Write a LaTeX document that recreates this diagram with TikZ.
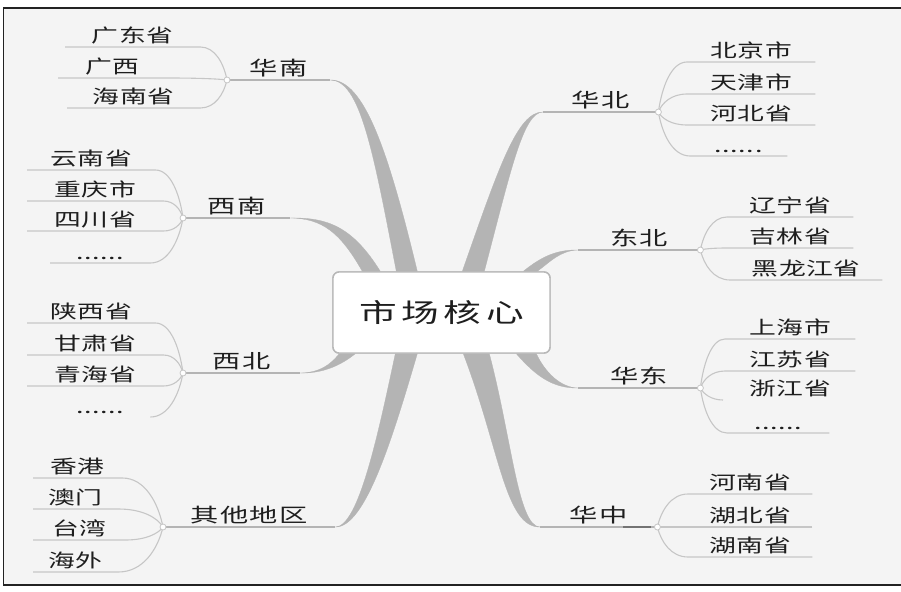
\documentclass[tikz,border=0pt]{standalone}
\usepackage{fontspec}
\setmainfont{Noto Sans CJK SC}
\newfontfamily\kidfont[FakeStretch=1.45,LetterSpace=3]{Noto Sans CJK SC}
\newfontfamily\brfont[FakeStretch=1.45,LetterSpace=6]{Noto Sans CJK SC}
\newfontfamily\corefont[FakeStretch=1.45,LetterSpace=18]{Noto Sans CJK SC}
\usetikzlibrary{calc}
\definecolor{bg}{HTML}{F4F4F4}
\definecolor{ink}{HTML}{1E1E1E}
\definecolor{limb}{HTML}{B4B4B4}
\definecolor{twig}{HTML}{C6C6C6}
\definecolor{framec}{HTML}{222222}
\definecolor{boxc}{HTML}{B8B8B8}
\tikzset{
  kid/.style={anchor=south west, inner xsep=0pt, inner ysep=3pt,
    font=\kidfont\fontsize{18.5}{20}\selectfont, text=ink},
  brlabel/.style={anchor=south west, inner xsep=0pt, inner ysep=3pt,
    font=\brfont\fontsize{19.5}{22}\selectfont, text=ink},
  twigline/.style={draw=twig, line width=1.1pt},
  limbline/.style={draw=limb, line width=1.2pt},
  limbfill/.style={fill=limb, draw=limb, line width=0.3pt},
  joint/.style={circle, draw=twig, fill=white, line width=0.8pt, inner sep=0pt, minimum size=6pt},
  corebox/.style={draw=boxc, fill=white, line width=1.4pt, rounded corners=6pt,
    minimum width=217pt, minimum height=81pt, inner sep=0pt,
    font=\corefont\fontsize{26}{30}\selectfont, text=ink},
}
% child node: name, text, x start, x end, y of underline
\newcommand\kidnode[5]{%
  \pgfmathsetmacro\kidw{#4-#3}%
  \node[kid, minimum width=\kidw pt] (#1) at (#3,#5) {#2};}
\newcommand\brnode[5]{%
  \pgfmathsetmacro\kidw{#4-#3}%
  \node[brlabel, minimum width=\kidw pt] (#1) at (#3,#5) {#2};}
% left side twig: child #1 to branch label #2 (junction at label's south west)
\newcommand\twigL[2]{%
  \draw[twigline] let \p1=(#1.south east), \p2=(#2.south west) in
    (#1.south west) -- (\p1) .. controls ({0.45*\x1+0.55*\x2},\y1) and ({0.12*\x1+0.88*\x2},{0.5*\y1+0.5*\y2}) .. (\p2);}
\newcommand\twigLs[2]{%
  \draw[twigline] let \p1=(#1.south east), \p2=(#2.south west) in
    (\p1) .. controls ({0.45*\x1+0.55*\x2},\y1) and ({0.12*\x1+0.88*\x2},{0.5*\y1+0.5*\y2}) .. (\p2);}
% right side twig: child #1 to branch label #2 (junction at label's south east)
\newcommand\twigR[2]{%
  \draw[twigline] let \p1=(#1.south west), \p2=(#2.south east) in
    (#1.south east) -- (\p1) .. controls ({0.45*\x1+0.55*\x2},\y1) and ({0.12*\x1+0.88*\x2},{0.5*\y1+0.5*\y2}) .. (\p2);}
\newcommand\twigRs[3]{%
  \draw[twigline] let \p1=(#1.south west), \p2=(#2.south east) in
    ($(\p1)+(#3,0)$) .. controls ({0.45*\x1+0.55*\x2},\y1) and ({0.12*\x1+0.88*\x2},{0.5*\y1+0.5*\y2}) .. (\p2);}
\begin{document}
\begin{tikzpicture}[x=1pt,y=-1pt]
\useasboundingbox (0,0) rectangle (901,591);
\fill[white] (0,0) rectangle (901,591);
\fill[bg] (3.5,8) rectangle (901,585);
\draw[draw=framec, line width=1.5pt] (901,8) -- (3.5,8) -- (3.5,585) -- (901,585);

% centre node (placed first so the limbs can refer to it)
\node[corebox] (core) at (441.5,312.5) {市场核心};

% branch labels
\brnode{hn}{华南}{227}{330}{80}
\brnode{nsw}{西南}{183}{290}{218}
\brnode{nnw}{西北}{183}{300}{373}
\brnode{not}{其他地区}{163}{335}{527}
\brnode{nn}{华北}{543}{658}{112}
\brnode{ne}{东北}{578}{700}{250}
\brnode{ee}{华东}{578}{700}{388}
\brnode{nc}{华中}{540}{657}{527}

% thick tapered limbs
\fill[limbfill] (hn.south east) .. controls (364,79.5) and (388,150) .. ($(core.north west)+(85,0)$)
  -- ($(core.north west)+(64,0)$) .. controls (373,150) and (360,80.5) .. (hn.south east) -- cycle;
\fill[limbfill] (nsw.south east) .. controls (327,217.5) and (352,226) .. ($(core.north west)+(48,0)$)
  -- ($(core.north west)+(30,0)$) .. controls (340,232) and (322,218.5) .. (nsw.south east) -- cycle;
\fill[limbfill] (nnw.south east) .. controls (320,372.5) and (330,365) .. ($(core.south west)+(7,0)$)
  -- ($(core.south west)+(23,0)$) .. controls (340,366) and (322,373.5) .. (nnw.south east) -- cycle;
\fill[limbfill] (not.south east) .. controls (358,526.5) and (377,440) .. ($(core.south west)+(63,0)$)
  -- ($(core.south west)+(85,0)$) .. controls (392,440) and (365,527.5) .. (not.south east) -- cycle;
\fill[limbfill] (nn.south west) .. controls (517,111.5) and (498,170) .. ($(core.north west)+(130,0)$)
  -- ($(core.north west)+(152,0)$) .. controls (511,170) and (523,112.5) .. (nn.south west) -- cycle;
\fill[limbfill] (ne.south west) .. controls (555,249.5) and (540,258) .. ($(core.north west)+(191,0)$)
  -- ($(core.north west)+(205,0)$) .. controls (550,262) and (560,250.5) .. (ne.south west) -- cycle;
\fill[limbfill] (ee.south west) .. controls (552,388.5) and (535,375) .. ($(core.south west)+(184,0)$)
  -- ($(core.south west)+(204,0)$) .. controls (545,372) and (560,387.5) .. (ee.south west) -- cycle;
\fill[limbfill] (nc.south west) .. controls (505,527.5) and (500,450) .. ($(core.south west)+(131,0)$)
  -- ($(core.south west)+(157,0)$) .. controls (512,440) and (518,526.5) .. (nc.south west) -- cycle;

% redraw centre box over the limb bases
\node[corebox] (core2) at (core.center) {市场核心};

% label underlines
\foreach \b in {hn,nsw,nnw,not,nn,ne,ee,nc}{\draw[limbline] (\b.south west) -- (\b.south east);}
\draw[draw=black!55, line width=1.8pt] ($(nc.south east)+(-34,0)$) -- ($(nc.south east)+(-6,0)$);

% children: 华南
\kidnode{gd}{广东省}{65}{200}{47}
\kidnode{gx}{广西}{58}{167}{78}
\kidnode{hain}{海南省}{67}{200}{108}
% 西南
\kidnode{yn}{云南省}{27}{155}{170}
\kidnode{cq}{重庆市}{27}{163}{201}
\kidnode{sc}{四川省}{27}{163}{231}
\kidnode{swd}{......}{50}{150}{263}
% 西北
\kidnode{snx}{陕西省}{27}{155}{323}
\kidnode{gs}{甘肃省}{27}{163}{355}
\kidnode{qh}{青海省}{27}{163}{386}
\kidnode{nwd}{......}{50}{150}{417}
% 其他地区
\kidnode{hk}{香港}{33}{122}{478}
\kidnode{mo}{澳门}{33}{118}{509}
\kidnode{tw}{台湾}{33}{125}{540}
\kidnode{hw}{海外}{33}{118}{572}
% 华北
\kidnode{bj}{北京市}{687}{815}{62}
\kidnode{tj}{天津市}{687}{815}{94}
\kidnode{hb}{河北省}{687}{815}{125}
\kidnode{nnd}{......}{690}{787}{156}
% 东北
\kidnode{ln}{辽宁省}{727}{853}{217}
\kidnode{jl}{吉林省}{727}{853}{248}
\kidnode{hlj}{黑龙江省}{730}{882}{280}
% 华东
\kidnode{sh}{上海市}{725}{855}{339}
\kidnode{js}{江苏省}{725}{855}{371}
\kidnode{zj}{浙江省}{725}{855}{400}
\kidnode{eed}{......}{727}{829}{433}
% 华中
\kidnode{hen}{河南省}{688}{812}{494}
\kidnode{hub}{湖北省}{688}{812}{527}
\kidnode{hun}{湖南省}{688}{812}{557}

% twigs
\twigL{gd}{hn}\twigL{gx}{hn}\twigL{hain}{hn}
\twigL{yn}{nsw}\twigL{cq}{nsw}\twigL{sc}{nsw}\twigL{swd}{nsw}
\twigL{snx}{nnw}\twigL{gs}{nnw}\twigL{qh}{nnw}\twigLs{nwd}{nnw}
\twigL{hk}{not}\twigL{mo}{not}\twigL{tw}{not}\twigL{hw}{not}
\twigR{bj}{nn}\twigR{tj}{nn}\twigR{hb}{nn}\twigR{nnd}{nn}
\twigR{ln}{ne}\twigR{jl}{ne}\twigR{hlj}{ne}
\twigR{sh}{ee}\twigR{js}{ee}\twigRs{zj}{ee}{-2}\twigR{eed}{ee}
\twigR{hen}{nc}\twigR{hub}{nc}\twigR{hun}{nc}

% junction dots
\node[joint] (jhn) at (hn.south west) {};
\node[joint] (jsw) at (nsw.south west) {};
\node[joint] (jnw) at (nnw.south west) {};
\node[joint] (jot) at (not.south west) {};
\node[joint] (jnn) at (nn.south east) {};
\node[joint] (jne) at (ne.south east) {};
\node[joint] (jee) at (ee.south east) {};
\node[joint] (jnc) at (nc.south east) {};
\end{tikzpicture}
\end{document}
